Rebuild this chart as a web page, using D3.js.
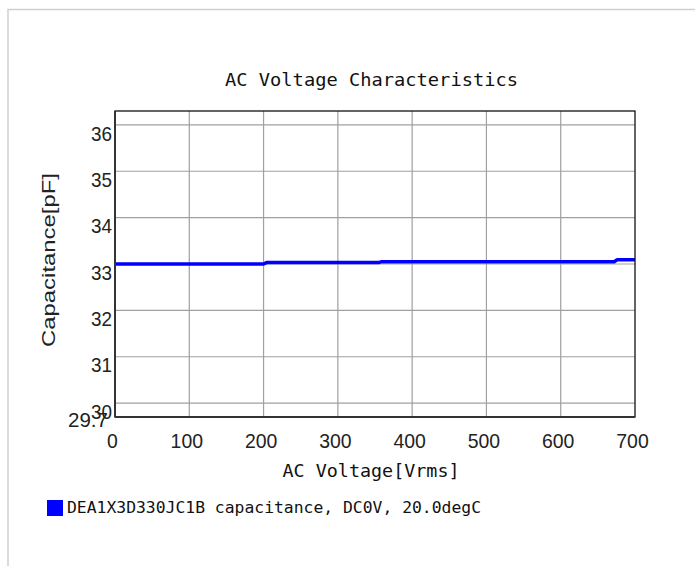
<!DOCTYPE html>
<html>
<head>
<meta charset="utf-8">
<script src="https://cdn.jsdelivr.net/npm/d3@7"></script>
<style>
  html, body { margin: 0; padding: 0; background: #fff; }
  svg { display: block; }
</style>
</head>
<body>
<svg id="chart" width="695" height="566"></svg>
<script>
// ---- data ----
const voltage = [0, 200, 204, 355, 359, 672, 676, 700];
const capacitance = [33.00, 33.00, 33.03, 33.03, 33.05, 33.05, 33.09, 33.09];
const xTicks = [0, 100, 200, 300, 400, 500, 600, 700];
const yTicks = [30, 31, 32, 33, 34, 35, 36];
const yMinLabel = "29.7";
const titleText = "AC Voltage Characteristics";
const xTitle = "AC Voltage[Vrms]";
const yTitle = "Capacitance[pF]";
const seriesName = "DEA1X3D330JC1B capacitance, DC0V, 20.0degC";

const svg = d3.select("#chart");
const m = { left: 115, top: 111, right: 635, bottom: 417 };

// outer frame
svg.append("rect").attr("x", 8).attr("y", 9.5).attr("width", 720).attr("height", 600)
  .attr("fill", "none").attr("stroke", "#cfd0d3").attr("stroke-width", 1.5);

const x = d3.scaleLinear().domain([0, 700]).range([m.left, m.right]);
const y = d3.scaleLinear().domain([29.7, 36.3]).range([m.bottom, m.top]);

const mono = "'DejaVu Sans Mono', 'Liberation Mono', monospace";
const sans = "'Liberation Sans', Arial, sans-serif";

// title
svg.append("text").attr("x", 371.5).attr("y", 86).attr("text-anchor", "middle")
  .attr("font-family", mono).attr("font-size", 17).attr("fill", "#111")
  .attr("textLength", 293).attr("lengthAdjust", "spacingAndGlyphs")
  .text(titleText);

// grid
const grid = svg.append("g").attr("stroke", "#a0a0a0").attr("stroke-width", 1.2);
grid.selectAll("line.v").data(xTicks.slice(1, -1)).enter().append("line")
  .attr("x1", d => x(d)).attr("x2", d => x(d)).attr("y1", m.top).attr("y2", m.bottom);
grid.selectAll("line.h").data(yTicks).enter().append("line")
  .attr("x1", m.left).attr("x2", m.right).attr("y1", d => y(d)).attr("y2", d => y(d));

// series line
const line = d3.line().x((d, i) => x(voltage[i])).y(d => y(d));
svg.append("path").datum(capacitance).attr("d", line)
  .attr("fill", "none").attr("stroke", "#0000ff").attr("stroke-width", 3.5)
  .attr("stroke-linejoin", "round");

// plot border
svg.append("rect").attr("x", m.left).attr("y", m.top)
  .attr("width", m.right - m.left).attr("height", m.bottom - m.top)
  .attr("fill", "none").attr("stroke", "#111").attr("stroke-width", 1.3);
svg.append("line").attr("x1", m.left).attr("x2", m.left).attr("y1", m.top).attr("y2", m.bottom)
  .attr("stroke", "#333").attr("stroke-width", 2);
svg.append("line").attr("x1", m.left).attr("x2", m.right).attr("y1", m.bottom).attr("y2", m.bottom)
  .attr("stroke", "#333").attr("stroke-width", 2);

// y tick labels
const yAxis = d3.axisLeft(y).tickValues(yTicks).tickSize(0).tickPadding(3).tickFormat(d3.format("d"));
const gy = svg.append("g").attr("transform", `translate(${m.left},0)`).call(yAxis);
gy.select(".domain").remove();
gy.selectAll("text").attr("font-family", sans).attr("font-size", 21).attr("fill", "#222")
  .attr("dy", "0.72em").attr("textLength", 21).attr("lengthAdjust", "spacingAndGlyphs");
svg.append("text").attr("x", 108).attr("y", 427).attr("text-anchor", "end")
  .attr("font-family", sans).attr("font-size", 21).attr("fill", "#222")
  .attr("textLength", 40).attr("lengthAdjust", "spacingAndGlyphs").text(yMinLabel);

// x tick labels
const xAxis = d3.axisBottom(x).tickValues(xTicks).tickSize(0).tickPadding(0).tickFormat(d3.format("d"));
const gx = svg.append("g").attr("transform", `translate(-3,${m.bottom})`).call(xAxis);
gx.select(".domain").remove();
gx.selectAll("text").attr("font-family", sans).attr("font-size", 21).attr("fill", "#222")
  .attr("y", 31).attr("dy", 0)
  .attr("textLength", d => String(d).length * 10.8).attr("lengthAdjust", "spacingAndGlyphs");

// axis titles
svg.append("text").attr("x", 371).attr("y", 477).attr("text-anchor", "middle")
  .attr("font-family", mono).attr("font-size", 18).attr("fill", "#111")
  .attr("textLength", 177).attr("lengthAdjust", "spacingAndGlyphs").text(xTitle);
svg.append("text").attr("transform", "translate(55,260) rotate(-90)").attr("text-anchor", "middle")
  .attr("font-family", sans).attr("font-size", 18).attr("fill", "#222")
  .attr("textLength", 174).attr("lengthAdjust", "spacingAndGlyphs").text(yTitle);

// legend
svg.append("rect").attr("x", 47).attr("y", 500).attr("width", 16).attr("height", 16).attr("fill", "#0000ff");
svg.append("text").attr("x", 67).attr("y", 513)
  .attr("font-family", mono).attr("font-size", 16).attr("fill", "#111")
  .attr("textLength", 414).attr("lengthAdjust", "spacingAndGlyphs").text(seriesName);
</script>
</body>
</html>
